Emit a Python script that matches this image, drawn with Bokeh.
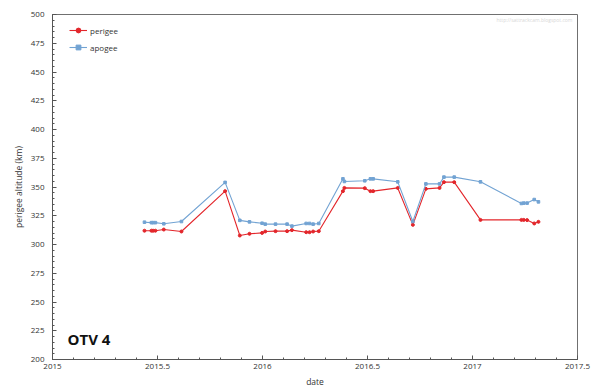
from bokeh.plotting import figure
from bokeh.models import (SingleIntervalTicker, CustomJSTickFormatter, Label,
                          Legend, LegendItem, Range1d)
from bokeh.embed import file_html
from bokeh.resources import INLINE

# ---- data ----
dates = [2015.438, 2015.471, 2015.479, 2015.490, 2015.530, 2015.614, 2015.822,
         2015.892, 2015.938, 2015.998, 2016.013, 2016.062, 2016.117, 2016.140,
         2016.208, 2016.224, 2016.241, 2016.268, 2016.383, 2016.390, 2016.487,
         2016.514, 2016.527, 2016.644, 2016.716, 2016.778, 2016.843, 2016.864,
         2016.913, 2017.038, 2017.233, 2017.244, 2017.260, 2017.294, 2017.314]
perigee = [312.0, 312.0, 312.0, 312.0, 313.0, 311.3, 346.4, 307.8, 309.3, 310.1,
           311.3, 311.6, 311.6, 312.5, 310.7, 310.7, 311.3, 311.6, 346.4, 349.2,
           349.0, 346.4, 346.4, 349.2, 317.1, 348.4, 349.2, 354.2, 354.2, 321.4,
           321.4, 321.4, 321.2, 318.3, 319.7]
apogee = [319.4, 319.0, 319.0, 319.0, 318.0, 320.0, 354.0, 321.0, 319.7, 318.5,
          317.7, 317.7, 317.7, 316.0, 318.3, 318.3, 317.7, 318.3, 357.1, 354.8,
          355.4, 357.1, 357.1, 354.5, 320.0, 352.7, 352.7, 358.6, 358.6, 354.5,
          335.7, 336.0, 336.0, 339.1, 337.1]
series_names = ["perigee", "apogee"]
title_text = "OTV 4"
x_label = "date"
y_label = "perigee altitude (km)"
watermark = "http://sattrackcam.blogspot.com"

RED = "#e3262b"
BLUE = "#72a3d3"
FONT = "Open Sans"

p = figure(frame_width=525, frame_height=345, output_backend="svg",
           toolbar_location=None, x_range=Range1d(2015, 2017.5),
           y_range=Range1d(200, 500),
           min_border_left=52, min_border_top=14, min_border_right=15,
           min_border_bottom=10)
p.background_fill_color = "white"
p.border_fill_color = "white"
p.outline_line_color = "#707070"
p.outline_line_width = 1
p.xgrid.visible = False
p.ygrid.visible = False

p.xaxis.ticker = SingleIntervalTicker(interval=0.5, num_minor_ticks=5)
p.yaxis.ticker = SingleIntervalTicker(interval=25, num_minor_ticks=5)
p.xaxis.formatter = CustomJSTickFormatter(code="return String(tick);")
p.yaxis.formatter = CustomJSTickFormatter(code="return String(tick);")
for ax in (p.xaxis, p.yaxis):
    ax.major_tick_in = 4
    ax.major_tick_out = 0
    ax.minor_tick_in = 2
    ax.minor_tick_out = 0
    ax.axis_line_color = "#555555"
    ax.major_tick_line_color = "#555555"
    ax.minor_tick_line_color = "#555555"
    ax.major_label_text_font = FONT
    ax.major_label_text_font_size = "8px"
    ax.major_label_text_color = "#333333"
    ax.axis_label_text_font = FONT
    ax.axis_label_text_font_size = "8.5px"
    ax.axis_label_text_font_style = "normal"
    ax.axis_label_text_color = "#333333"
p.xaxis.axis_label = x_label
p.yaxis.axis_label = y_label
p.xaxis.major_label_standoff = 4
p.yaxis.major_label_standoff = 8
p.xaxis.axis_label_standoff = 4
p.yaxis.axis_label_standoff = 4

l1 = p.line(dates, perigee, line_color=RED, line_width=1.1)
m1 = p.scatter(dates, perigee, marker="circle", size=3, fill_color=RED,
               line_color=RED)
l2 = p.line(dates, apogee, line_color=BLUE, line_width=1.1)
m2 = p.scatter(dates, apogee, marker="square", size=2.6, fill_color=BLUE,
               line_color=BLUE)

legend = Legend(items=[LegendItem(label=series_names[0], renderers=[l1, m1]),
                       LegendItem(label=series_names[1], renderers=[l2, m2])],
                location=(17, 306), margin=0, padding=0, spacing=5,
                glyph_width=18, glyph_height=12, label_standoff=3,
                label_text_font=FONT, label_text_font_size="8px",
                label_text_color="#333333", label_height=12,
                background_fill_alpha=0, border_line_alpha=0)
p.add_layout(legend)

p.add_layout(Label(x=15, y=11, x_units="screen", y_units="screen",
                   text=title_text, text_font=FONT, text_font_size="15px",
                   text_font_style="bold", text_color="#111111"))
p.add_layout(Label(x=520, y=337, x_units="screen", y_units="screen",
                   text=watermark, text_font=FONT, text_font_size="5px",
                   text_color="#d8d8d8", text_align="right"))

open("out.html", "w").write(file_html(p, INLINE))
